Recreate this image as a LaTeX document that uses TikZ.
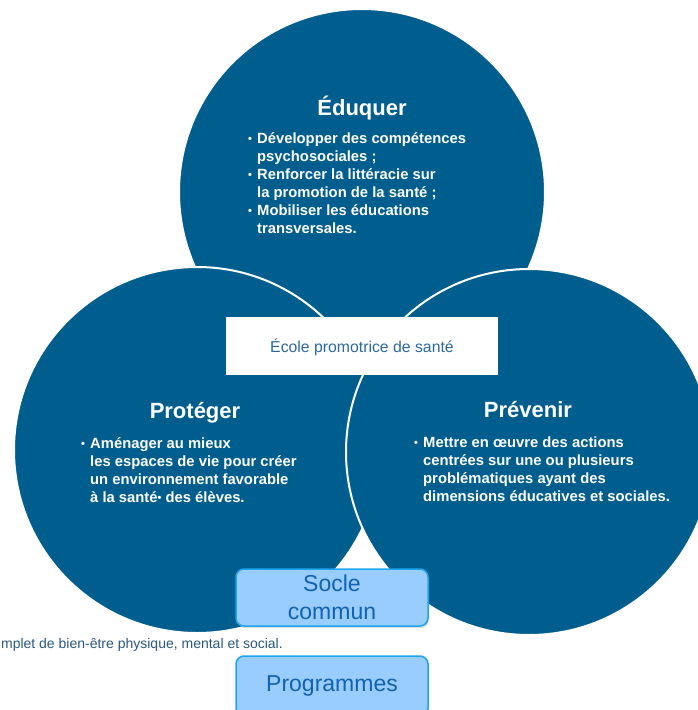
\documentclass[tikz,border=0pt]{standalone}
\usepackage{fontspec}
\setmainfont{Liberation Sans}
\usetikzlibrary{shadows}
\definecolor{circblue}{HTML}{005E8E}
\definecolor{labelblue}{RGB}{45,105,155}
\definecolor{boxfill}{HTML}{99CCFF}
\definecolor{boxline}{HTML}{1EA5EE}
\definecolor{boxtext}{HTML}{1262B2}
\definecolor{foottext}{RGB}{42,88,130}
\newcommand\bul{\raisebox{0.6pt}{\fontsize{11}{11}\selectfont\textbullet}}
\newcommand\bm{\makebox[9pt][l]{\bul}}
\tikzset{
  bigcircle/.style={circle, inner sep=0pt, minimum size=366pt, fill=circblue, draw=white, line width=2pt},
  titletext/.style={text=white, font=\fontsize{22}{26}\selectfont\bfseries, anchor=base, inner sep=0pt},
  bullettext/.style={text=white, font=\fontsize{14.8}{18}\selectfont\bfseries, anchor=base west, inner sep=0pt},
  stdbox/.style={rounded corners=8pt, fill=boxfill, draw=boxline, line width=1.5pt, text=boxtext,
    font=\fontsize{23}{28}\selectfont, align=center, minimum width=192pt,
    drop shadow={opacity=0.25, shadow xshift=1pt, shadow yshift=-2pt}}
}
\begin{document}
\begin{tikzpicture}[x=1pt,y=-1pt]
\useasboundingbox (0,0) rectangle (698,710);
\fill[white] (0,0) rectangle (698,710);
% circles
\node[bigcircle] (top) at (362,192) {};
\node[bigcircle] (left) at (197,450) {};
\node[bigcircle] (right) at (529,452) {};
% centre label
\node[fill=white, minimum width=272pt, minimum height=58pt, inner sep=0pt] (ecole) at (362,346) {};
\node[text=labelblue, font=\fontsize{15.8}{18}\selectfont, anchor=base, inner sep=0pt] (ecoletxt) at (362,352) {École promotrice de santé};
% titles
\node[titletext] (t1) at (362,115) {Éduquer};
\node[titletext] (t2) at (195,418) {Protéger};
\node[titletext] (t3) at (528,417) {Prévenir};
% bullets
\node[bullettext] (b1) at (248,143) {\begin{tabular}[t]{@{}l@{}l@{}}
\bm & Développer des compétences\\
 & psychosociales ;\\
\bm & Renforcer la littéracie sur\\
 & la promotion de la santé ;\\
\bm & Mobiliser les éducations\\
 & transversales.
\end{tabular}};
\node[bullettext] (b2) at (81,448) {\begin{tabular}[t]{@{}l@{}l@{}}
\bm & Aménager au mieux\\
 & les espaces de vie pour créer\\
 & un environnement favorable\\
 & à la santé\bul\ des élèves.
\end{tabular}};
\node[bullettext] (b3) at (414,447) {\begin{tabular}[t]{@{}l@{}l@{}}
\bm & Mettre en œuvre des actions\\
 & centrées sur une ou plusieurs\\
 & problématiques ayant des\\
 & dimensions éducatives et sociales.
\end{tabular}};
% footer text
\node[text=foottext, font=\fontsize{14}{16}\selectfont, anchor=base east, inner sep=0pt] (foot) at (283,648) {mplet de bien-être physique, mental et social.};
% boxes
\node[stdbox, minimum height=57pt] (socle) at (332,597.5) {Socle\\commun};
\node[stdbox, minimum height=60pt] (prog) at (332,686) {Programmes};
\end{tikzpicture}
\end{document}
